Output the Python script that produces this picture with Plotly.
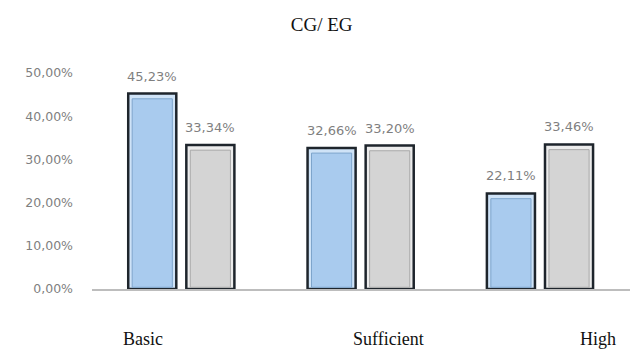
import plotly.graph_objects as go

# Share of students per achievement level, control group vs experimental group
categories = ["Basic", "Sufficient", "High"]
cg_values = [0.4523, 0.3266, 0.2211]
eg_values = [0.3334, 0.3320, 0.3346]
y_ticks = [0, 0.1, 0.2, 0.3, 0.4, 0.5]

BLUE_RIM, BLUE_FILL, BLUE_EDGE = "#cfe3f7", "#a9cbee", "#7ea5cc"
GREY_RIM, GREY_FILL, GREY_EDGE = "#ececec", "#d4d4d4", "#a8a8a8"
OUTLINE = "#1e252c"
SANS = "DejaVu Sans, Arial"

BAR_W = 0.268      # bar width in category units
INSET = 0.022      # bevel inset in category units
TOP_INSET = 0.012  # bevel inset at the top, in value units
SLOT_PX = (630 - 92) / 3

fig = go.Figure()


def bevel_bar(values, offset, rim, fill, edge):
    # outer frame
    fig.add_trace(go.Bar(
        x=categories, y=values, width=BAR_W, offset=offset,
        marker=dict(color=rim, line=dict(color=OUTLINE, width=2.5)),
        hoverinfo="skip", showlegend=False,
    ))
    # inner face for the raised look
    fig.add_trace(go.Bar(
        x=categories, y=[v - TOP_INSET - 0.004 for v in values],
        base=0.004,
        width=BAR_W - 2 * INSET, offset=offset + INSET,
        marker=dict(color=fill, line=dict(color=edge, width=1)),
        hoverinfo="skip", showlegend=False,
    ))
    # value labels above each bar
    centre_px = (offset + BAR_W / 2) * SLOT_PX
    for cat, v in zip(categories, values):
        fig.add_annotation(
            x=cat, y=v, xref="x", yref="y", xshift=centre_px, yshift=8,
            text=f"{v * 100:.2f}%".replace(".", ","), showarrow=False,
            xanchor="center", yanchor="bottom",
            font=dict(family=SANS, size=13, color="#7f7f7f"),
        )


bevel_bar(cg_values, -0.298, BLUE_RIM, BLUE_FILL, BLUE_EDGE)
bevel_bar(eg_values, 0.026, GREY_RIM, GREY_FILL, GREY_EDGE)

# category names printed beneath the axis
label_pos = [(143, "Basic"), (388, "Sufficient"), (598, "High")]
for px, name in label_pos:
    fig.add_annotation(
        x=(px - 92) / (630 - 92), xref="paper", y=-0.23, yref="paper",
        text=name, showarrow=False, xanchor="center", yanchor="middle",
        font=dict(family="Liberation Serif, Times New Roman", size=18, color="#111111"),
    )

fig.update_layout(
    width=637, height=351,
    margin=dict(l=92, r=7, t=73, b=62),
    paper_bgcolor="white", plot_bgcolor="white",
    separators=",.",
    barmode="overlay",
    title=dict(
        text="CG/ EG", x=0.505, xanchor="center", y=0.93, yanchor="middle",
        font=dict(family="Liberation Serif, Times New Roman", size=19, color="#111111"),
    ),
    xaxis=dict(
        showticklabels=False, ticks="", showgrid=False,
        showline=True, linecolor="#bdbdbd", linewidth=1.5, zeroline=False,
    ),
    yaxis=dict(
        range=[0, 0.5], tickvals=y_ticks, tickformat=".2%",
        showgrid=False, zeroline=False, showline=False, ticks="",
        ticklabelstandoff=18,
        tickfont=dict(family=SANS, size=12.5, color="#7f7f7f"),
    ),
)

fig.write_html("out.html")
